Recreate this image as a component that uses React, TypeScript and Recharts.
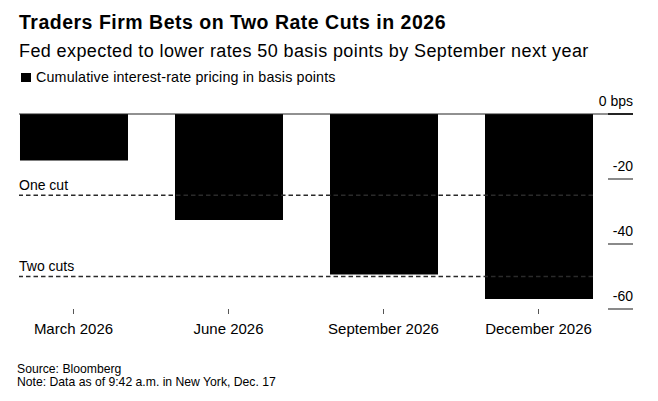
import React from 'react';
import { BarChart, Bar, XAxis, YAxis, ReferenceLine } from 'recharts';

const categories = ['March 2026', 'June 2026', 'September 2026', 'December 2026'];
const pricing = [-14.3, -32.6, -49.4, -56.9];
const yTicks = [0, -20, -40, -60];
const cutLines = [
    { value: -25, label: 'One cut' },
    { value: -50, label: 'Two cuts' },
];

const FONT = '"Liberation Sans", Arial, sans-serif';

const data = categories.map((name, idx) => ({ idx, name, value: pricing[idx] }));

// Right axis tick: short rule with the label sitting on top of it
const RightTick = (props: any) => {
    const { x, y, payload } = props;
    const isZero = payload.value === 0;
    return (
        <g>
            {isZero && <line x1={x} x2={x + 40} y1={y} y2={y} stroke="#222" strokeWidth={1} />}
            <line x1={x + 15} x2={x + 40} y1={y} y2={y} stroke={isZero ? '#000' : '#8a8a8a'} strokeWidth={isZero ? 1.5 : 2} />
            <text x={x + 40} y={y - 8.5} textAnchor="end" fontSize={14} fill="#000" fontFamily={FONT}>
                {isZero ? '0 bps' : payload.value}
            </text>
        </g>
    );
};

const CutLabel = ({ text }: { text: string }) => (props: any) => {
    const { viewBox } = props;
    return (
        <text x={viewBox.x} y={viewBox.y - 5.5} fontSize={14} fill="#000" fontFamily={FONT}>
            {text}
        </text>
    );
};

export default function App() {
    return (
        <div style={{ position: 'absolute', left: 0, top: 0, width: 658, height: 401, background: '#fff', fontFamily: FONT, color: '#000' }}>
            <div style={{ position: 'absolute', left: 19, top: 12.8, fontSize: 19.5, lineHeight: '19.5px', fontWeight: 700, letterSpacing: 0.5, whiteSpace: 'nowrap' }}>
                Traders Firm Bets on Two Rate Cuts in 2026
            </div>
            <div style={{ position: 'absolute', left: 19, top: 41.5, fontSize: 18, lineHeight: '18px', letterSpacing: 0.4, whiteSpace: 'nowrap' }}>
                Fed expected to lower rates 50 basis points by September next year
            </div>
            <div style={{ position: 'absolute', left: 21, top: 72.5, width: 9.5, height: 9.5, background: '#000' }} />
            <div style={{ position: 'absolute', left: 36, top: 69.9, fontSize: 14.3, lineHeight: '14.3px', letterSpacing: 0.15, whiteSpace: 'nowrap' }}>
                Cumulative interest-rate pricing in basis points
            </div>

            <div style={{ position: 'absolute', left: 0, top: 0 }}>
                <BarChart width={658} height={350} data={data} margin={{ top: 114, right: 25, bottom: 11, left: 19 }}>
                    <XAxis
                        type="number"
                        dataKey="idx"
                        domain={[-0.3516, 3.3516]}
                        ticks={[0, 1, 2, 3]}
                        tickFormatter={(v: number) => categories[v]}
                        axisLine={false}
                        tickLine={{ stroke: '#555' }}
                        tickSize={5}
                        tickMargin={9}
                        height={30}
                        tick={{ fontSize: 15, fill: '#000', fontFamily: FONT }}
                        interval={0}
                    />
                    <YAxis
                        orientation="right"
                        domain={[-60, 0]}
                        ticks={yTicks}
                        width={40}
                        axisLine={false}
                        tickLine={false}
                        tickSize={0}
                        tickMargin={0}
                        tick={<RightTick />}
                        allowDataOverflow
                    />
                    <Bar dataKey="value" fill="#000" barSize={108} isAnimationActive={false} />
                    <ReferenceLine y={0} stroke="#222" strokeWidth={1} />
                    {cutLines.map((c) => (
                        <ReferenceLine
                            key={c.label}
                            y={c.value}
                            stroke="#2a2a2a"
                            strokeWidth={1.6}
                            strokeDasharray="4.5 3"
                            label={CutLabel({ text: c.label })}
                        />
                    ))}
                </BarChart>
            </div>

            <div style={{ position: 'absolute', left: 17, top: 363, fontSize: 12.2, lineHeight: '12.2px', whiteSpace: 'nowrap' }}>
                Source: Bloomberg
            </div>
            <div style={{ position: 'absolute', left: 17, top: 376.4, fontSize: 12.2, lineHeight: '12.2px', whiteSpace: 'nowrap' }}>
                Note: Data as of 9:42 a.m. in New York, Dec. 17
            </div>
        </div>
    );
}
